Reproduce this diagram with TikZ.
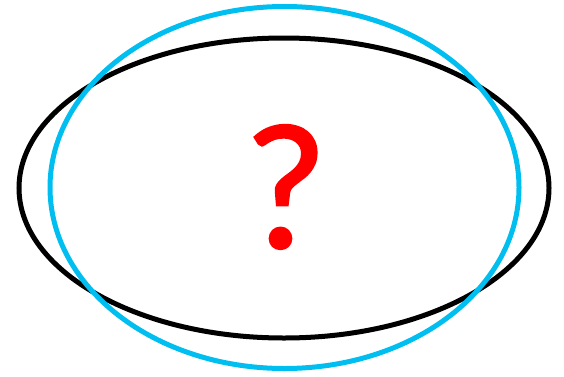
\documentclass[tikz,border=0pt]{standalone}
\usepackage{fontspec}
\setmainfont{Carlito}
\newfontfamily\qfont[FakeBold=1.2]{Carlito}
\begin{document}
\begin{tikzpicture}[x=1pt,y=1pt,
  ring/.style={line width=5pt},
  qmark/.style={text=red,font=\qfont\fontsize{180}{180}\selectfont,inner sep=0pt,anchor=center}]
\useasboundingbox (0,0) rectangle (564,376);
\draw[ring,black] (284,188) ellipse [x radius=265, y radius=150];
\draw[ring,color={rgb,255:red,0;green,190;blue,240}] (284.5,188.5) ellipse [x radius=234.5, y radius=181];
\node[qmark] (q) at (285.5,189) {?};
\end{tikzpicture}
\end{document}
